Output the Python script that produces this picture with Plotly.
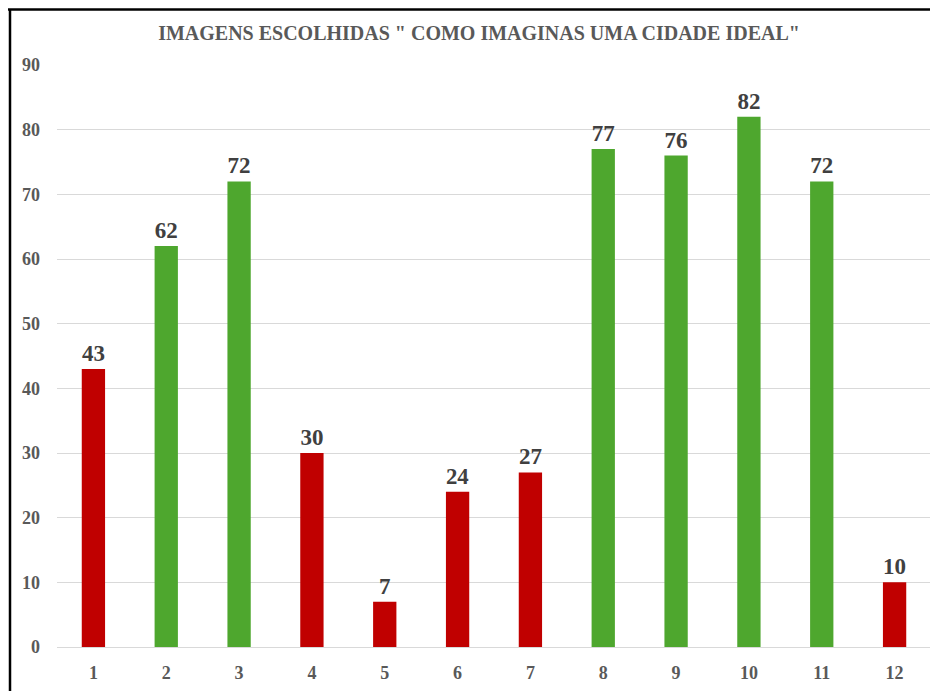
import plotly.graph_objects as go

categories = ["1", "2", "3", "4", "5", "6", "7", "8", "9", "10", "11", "12"]
values = [43, 62, 72, 30, 7, 24, 27, 77, 76, 82, 72, 10]
colors = ["#C00000", "#4EA72E", "#4EA72E", "#C00000", "#C00000", "#C00000",
          "#C00000", "#4EA72E", "#4EA72E", "#4EA72E", "#4EA72E", "#C00000"]
y_ticks = [0, 10, 20, 30, 40, 50, 60, 70, 80, 90]
title_text = 'IMAGENS ESCOLHIDAS " COMO IMAGINAS UMA CIDADE IDEAL"'

FONT = "Liberation Serif"
W, H = 926, 683
L, R, T, B = 49, 3, 57, 44

fig = go.Figure(go.Bar(
    x=categories, y=values,
    marker=dict(color=colors, line=dict(width=0)),
    text=[str(v) for v in values],
    textposition="outside",
    textfont=dict(family=FONT, size=23, color="#404040", weight="bold"),
    cliponaxis=False,
    width=0.32,
))

pw, ph = W - L - R, H - T - B
x_left = -(L - 2) / pw
y_top = 1 + (T - 1.5) / ph
fig.update_layout(
    width=W, height=H,
    margin=dict(l=L, r=R, t=T, b=B),
    paper_bgcolor="white", plot_bgcolor="white",
    title=dict(text="<b>" + title_text + "</b>", x=(441 - L + 8) / pw * 0 + (479 - 8 - L) / pw,
               xref="paper", xanchor="center",
               y=1 - 25 / H, yanchor="middle",
               font=dict(family=FONT, size=20, color="#595959")),
    showlegend=False,
    xaxis=dict(type="category", showgrid=False, showline=False, ticks="",
               ticklabelstandoff=13,
               tickfont=dict(family=FONT, size=18, color="#595959", weight="bold")),
    yaxis=dict(range=[0, 90], tickvals=y_ticks, showgrid=True, gridcolor="#D9D9D9",
               gridwidth=1, zeroline=True, zerolinecolor="#D9D9D9", zerolinewidth=1,
               ticks="", ticklabelstandoff=16,
               tickfont=dict(family=FONT, size=18, color="#595959", weight="bold")),
    shapes=[
        dict(type="line", xref="paper", yref="paper",
             x0=x_left - 0.005, x1=1.2, y0=y_top, y1=y_top,
             line=dict(color="black", width=2.5), layer="above"),
        dict(type="line", xref="paper", yref="paper",
             x0=x_left, x1=x_left, y0=-0.2, y1=y_top,
             line=dict(color="black", width=2.5), layer="above"),
    ],
)

fig.write_html("out.html")
